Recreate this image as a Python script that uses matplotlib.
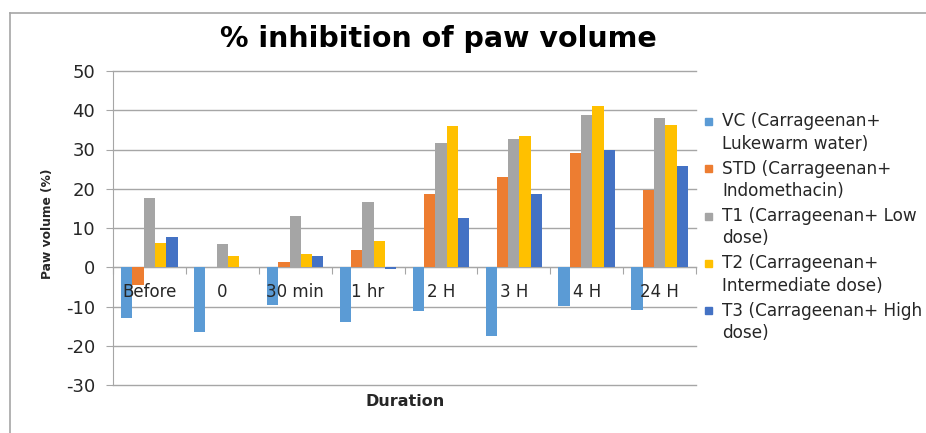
import matplotlib

matplotlib.use("Agg")
import matplotlib.pyplot as plt
import numpy as np
from matplotlib.lines import Line2D
from matplotlib.patches import Rectangle

# data
durations = ["Before", "0", "30 min", "1 hr", "2 H", "3 H", "4 H", "24 H"]
series_names = [
    "VC (Carrageenan+\nLukewarm water)",
    "STD (Carrageenan+\nIndomethacin)",
    "T1 (Carrageenan+ Low\ndose)",
    "T2 (Carrageenan+\nIntermediate dose)",
    "T3 (Carrageenan+ High\ndose)",
]
vc = [-12.9, -16.4, -9.5, -14.0, -11.2, -17.5, -9.9, -10.9]
std = [-4.4, 0.0, 1.4, 4.5, 18.7, 23.1, 29.0, 19.8]
t1 = [17.7, 6.0, 13.1, 16.6, 31.7, 32.8, 38.7, 38.0]
t2 = [6.3, 2.9, 3.5, 6.6, 35.9, 33.4, 41.1, 36.3]
t3 = [7.7, 0.0, 2.8, -0.5, 12.5, 18.7, 30.0, 25.9]
colors = ["#5B9BD5", "#ED7D31", "#A5A5A5", "#FFC000", "#4472C4"]

plt.rcParams["axes.unicode_minus"] = False
grid_c = "#A6A6A6"
txt_c = "#262626"
fig = plt.figure(figsize=(9.26, 4.33), dpi=100)
ax = fig.add_axes([113 / 926, 48 / 433, 583 / 926, 314 / 433])

x = np.arange(len(durations))
width = 0.155
for i, vals in enumerate([vc, std, t1, t2, t3]):
    ax.bar(x + (i - 2) * width, vals, width, color=colors[i], zorder=2)

ax.set_xlim(-0.5, len(durations) - 0.5)
ax.set_ylim(-30, 50)
ax.set_yticks(np.arange(-30, 51, 10))
ax.yaxis.grid(True, color=grid_c, linewidth=1, zorder=0)
for gl in ax.yaxis.get_gridlines():
    gl.set_clip_on(False)
ax.set_axisbelow(True)

for s in ["top", "right"]:
    ax.spines[s].set_visible(False)
ax.spines["left"].set_color(grid_c)
ax.spines["bottom"].set_color(grid_c)
ax.spines["bottom"].set_position(("data", 0))
ax.spines["bottom"].set_zorder(1)

# boundary ticks on the zero line; category names written over the bars
ax.set_xticks(np.arange(-0.5, len(durations)), [])
ax.tick_params(axis="x", which="major", direction="out", length=5, color=grid_c)
ax.tick_params(axis="y", direction="out", length=5, color=grid_c, labelsize=13,
               labelcolor=txt_c, pad=8)
for xi, name in zip(x, durations):
    ax.annotate(name, (xi, 0), xytext=(0, -17.5), textcoords="offset points",
                ha="center", va="center", fontsize=12, color=txt_c, zorder=5)

fig.text(47 / 926, 1 - 224 / 433, "Paw volume (%)", fontsize=8.8, fontweight="bold",
         rotation=90, ha="center", va="center", color=txt_c)
fig.text(405 / 926, 1 - 401 / 433, "Duration", fontsize=11.5, fontweight="bold",
         ha="center", va="center", color=txt_c)
fig.text(438 / 926, 1 - 39 / 433, "% inhibition of paw volume", fontsize=20.5,
         fontweight="bold", ha="center", va="center")

# legend, drawn by hand so the swatch sits by the first line
for i, (name, c) in enumerate(zip(series_names, colors)):
    yc = 121.5 + i * 47.3
    fig.add_artist(Rectangle((705 / 926, 1 - (yc + 3.5) / 433), 7 / 926, 7 / 433,
                             transform=fig.transFigure, color=c))
    fig.text(722 / 926, 1 - (yc - 9) / 433, name, fontsize=12.2, color=txt_c,
             ha="left", va="top", linespacing=1.3)

# chart border (top and left edges visible in the reference)
fig.add_artist(Line2D([10 / 926, 1], [1 - 13 / 433, 1 - 13 / 433], color=grid_c, lw=1.2))
fig.add_artist(Line2D([10 / 926, 10 / 926], [0, 1 - 13 / 433], color=grid_c, lw=1.2))

fig.savefig("out.png", dpi=100)
plt.close(fig)
